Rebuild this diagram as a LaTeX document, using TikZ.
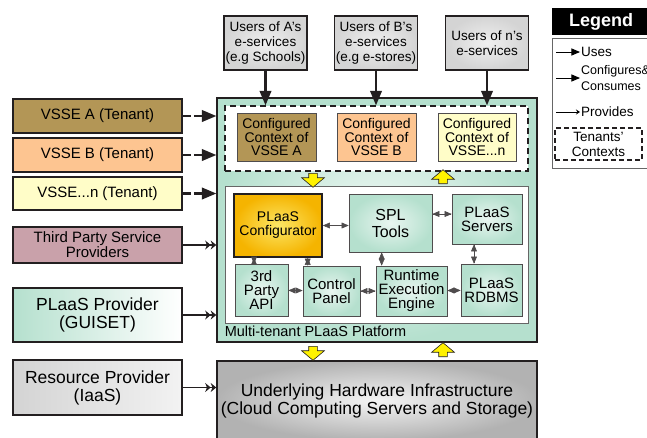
\documentclass[tikz,border=0pt]{standalone}
\usepackage{fontspec}
\setmainfont{Liberation Sans}
\usetikzlibrary{positioning}
\usetikzlibrary{shapes.arrows}
\usetikzlibrary{arrows,arrows.meta}
\tikzset{>={triangle 45}}

\definecolor{ink}{HTML}{231F20}
\definecolor{vsseA}{HTML}{B39656}
\definecolor{vsseB}{HTML}{FDC591}
\definecolor{vsseN}{HTML}{FFFDC8}
\definecolor{thirdp}{HTML}{C9A1AA}
\definecolor{mint}{HTML}{B5E0CE}
\definecolor{gold}{HTML}{F5B400}

\tikzstyle{usr} = [draw=ink,line width=1.6pt,minimum width=83pt,minimum height=54pt,inner sep=1pt,align=center,inner color=black!6,outer color=black!17,font=\fontsize{13.5}{15}\selectfont]
\tikzstyle{tenant} = [draw=ink,line width=1.6pt,minimum width=169pt,inner sep=1pt,align=center,font=\fontsize{15}{12}\selectfont]
\tikzstyle{ctx} = [draw=ink!80,line width=0.6pt,minimum width=79pt,minimum height=48pt,inner sep=1pt,align=center,font=\fontsize{14}{13.5}\selectfont]
\tikzstyle{part} = [draw=ink!80,line width=0.6pt,inner sep=1pt,align=center,inner color=mint!30,outer color=mint,font=\fontsize{15}{14}\selectfont]
\tikzstyle{blockdn} = [single arrow,shape border rotate=270,fill=yellow,draw=ink,line width=0.6pt,minimum height=14pt,minimum width=19pt,inner sep=4pt,single arrow tip angle=100]
\tikzstyle{blockup} = [blockdn,shape border rotate=90]
\tikzstyle{usearrow} = [->,draw=ink,line width=2.4pt]
\tikzstyle{tenantarrow} = [->,draw=ink,line width=2.4pt,dash pattern=on 8pt off 3pt]
\tikzstyle{provarrow} = [-{Stealth[length=5.5pt,width=9pt]Stealth[length=5.5pt,width=9pt]},draw=ink,line width=1.8pt]
\tikzstyle{link} = [<->,draw=ink!80,line width=0.6pt]
\tikzstyle{legtext} = [inner sep=1pt,align=left,font=\fontsize{13.5}{14}\selectfont]

\begin{document}
\begin{tikzpicture}[x=1pt,y=-1pt]
  \useasboundingbox (0,0) rectangle (647,437);

  % users of the e-services
  \node [usr] (usra) at (265.5,43) {Users of A's\\e-services\\(e.g Schools)};
  \node [usr] (usrb) at (376,43) {Users of B's\\e-services\\(e.g e-stores)};
  \node [usr] (usrn) at (487,43) {Users of n's\\e-services};

  % platform
  \node [draw=ink,line width=1.6pt,minimum width=320pt,minimum height=244pt,inner color=mint!20,outer color=mint] (platform) at (377,220) {};
  \node [draw=ink,line width=1.6pt,dash pattern=on 6pt off 4pt,fill=white,minimum width=303pt,minimum height=65pt] (ctxbox) at (376.5,138.5) {};
  \node [ctx,fill=vsseA] (ctxa) at (276.5,137) {Configured\\Context of\\VSSE A};
  \node [ctx,fill=vsseB] (ctxb) at (376.5,137) {Configured\\Context of\\VSSE B};
  \node [ctx,fill=vsseN,minimum width=78pt] (ctxn) at (477,137) {Configured\\Context of\\VSSE...n};

  \node [draw=black!60,line width=0.8pt,fill=white,minimum width=303pt,minimum height=137pt] (core) at (376.5,254.5) {};
  \node [anchor=north west,inner sep=0pt,font=\fontsize{14.5}{15}\selectfont] (plabel) at ([yshift=-2pt]core.south west) {Multi-tenant PLaaS Platform};

  \node [part,draw=ink,line width=1.6pt,inner color=yellow!45!gold!60,outer color=gold,minimum width=88pt,minimum height=63pt,font=\fontsize{14}{14}\selectfont] (conf) at (278,225.5) {PLaaS\\Configurator};
  \node [part,minimum width=83pt,minimum height=58pt,font=\fontsize{16}{17}\selectfont] (spl) at (390.5,223) {SPL\\Tools};
  \node [part,minimum width=70pt,minimum height=50pt] (srv) at (487,219) {PLaaS\\Servers};
  \node [part,minimum width=53pt,minimum height=52pt] (api) at (261.5,290) {3rd\\Party\\API};
  \node [part,minimum width=57pt,minimum height=50pt] (cpanel) at (331.5,291) {Control\\Panel};
  \node [part,minimum width=71pt,minimum height=50pt] (rte) at (411.5,291) {Runtime\\Execution\\Engine};
  \node [part,minimum width=61pt,minimum height=52pt] (rdb) at (491.5,290) {PLaaS\\RDBMS};

  \draw [link] (conf.east) -- (conf.east -| spl.west);
  \draw [link] ([yshift=5pt]srv.west) -- ([yshift=5pt]srv.west -| spl.east);
  \draw [link] ([xshift=-7.5pt]api.north) -- ([xshift=-7.5pt]api.north |- conf.south);
  \draw [link] ([xshift=5pt]cpanel.north west) -- ([xshift=5pt]cpanel.north west |- conf.south);
  \draw [link] ([xshift=6pt]rte.north west) -- ([xshift=6pt]rte.north west |- spl.south);
  \draw [link] ([xshift=-13pt]srv.south) -- ([xshift=-13pt]srv.south |- rdb.north);
  \draw [link] (api) -- (cpanel);
  \draw [link] (cpanel) -- (rte);
  \draw [link] (rte) -- (rdb);

  % hardware layer
  \node [draw=ink,line width=1.6pt,minimum width=320pt,minimum height=79pt,inner color=black!4,outer color=black!30,align=center,font=\fontsize{17.5}{18}\selectfont] (hw) at (377,400.5) {Underlying Hardware Infrastructure\\(Cloud Computing Servers and Storage)};

  % yellow block arrows
  \node [blockdn] (dn1) at (313,178.5) {};
  \node [blockup] (up1) at (443,178.5) {};
  \node [blockdn] (dn2) at (313,351.5) {};
  \node [blockup] (up2) at (443,351.5) {};

  % tenants and providers
  \node [tenant,fill=vsseA,minimum height=34pt] (vssea) at (97.5,116) {VSSE A (Tenant)};
  \node [tenant,fill=vsseB,minimum height=34pt] (vsseb) at (97.5,155) {VSSE B (Tenant)};
  \node [tenant,fill=vsseN,minimum height=33pt] (vssen) at (97.5,193.5) {VSSE...n (Tenant)};
  \node [tenant,fill=thirdp,minimum height=36pt] (tpsp) at (97.5,245) {Third Party Service\\Providers};
  \node [tenant,left color=mint,right color=white,minimum height=54pt,font=\fontsize{17.5}{18}\selectfont] (plp) at (97.5,315) {PLaaS Provider\\(GUISET)};
  \node [tenant,left color=black!17,right color=black!5,minimum height=55pt,font=\fontsize{17.5}{18}\selectfont] (rsp) at (97.5,387.5) {Resource Provider\\(IaaS)};

  \draw [usearrow] (usra) -- (usra |- ctxbox.north);
  \draw [usearrow] (usrb) -- (usrb |- ctxbox.north);
  \draw [usearrow] (usrn) -- (usrn |- ctxbox.north);

  \draw [tenantarrow] (vssea) -- (vssea -| platform.west);
  \draw [tenantarrow] (vsseb) -- (vsseb -| platform.west);
  \draw [tenantarrow] (vssen) -- (vssen -| platform.west);
  \draw [provarrow] (tpsp) -- (tpsp -| platform.west);
  \draw [provarrow] (plp) -- (plp -| platform.west);
  \draw [provarrow] (rsp) -- (rsp -| hw.west);

  % legend
  \node [fill=black,text=white,minimum width=98pt,minimum height=27pt,font=\fontsize{18}{18}\bfseries] (leghead) at (601,21.5) {Legend};
  \node [draw=black!60,line width=0.6pt,minimum width=98pt,minimum height=130pt] (legbox) at (601,103) {};
  \coordinate (l1) at (556,52);
  \coordinate (l2) at (556,78);
  \coordinate (l3) at (556,112);
  \node [legtext,right=24pt of l1] (luses) {Uses};
  \node [legtext,right=24pt of l2,font=\fontsize{12.5}{16}\selectfont] (lconf) {Configures\&\\Consumes};
  \node [legtext,right=24pt of l3] (lprov) {Provides};
  \draw [->,line width=1pt] (l1) -- (luses.west);
  \draw [->,line width=1pt] (l2) -- (l2 -| lconf.west);
  \draw [-{Stealth[length=4pt,width=5pt]},line width=1pt] (l3) -- (lprov.west);
  \node [draw=ink,line width=1.4pt,dash pattern=on 5pt off 3pt,minimum width=87pt,minimum height=32pt,inner sep=1pt,align=center,font=\fontsize{13.5}{15}\selectfont] (lctx) at (598.5,144) {Tenants'\\Contexts};
\end{tikzpicture}
\end{document}
